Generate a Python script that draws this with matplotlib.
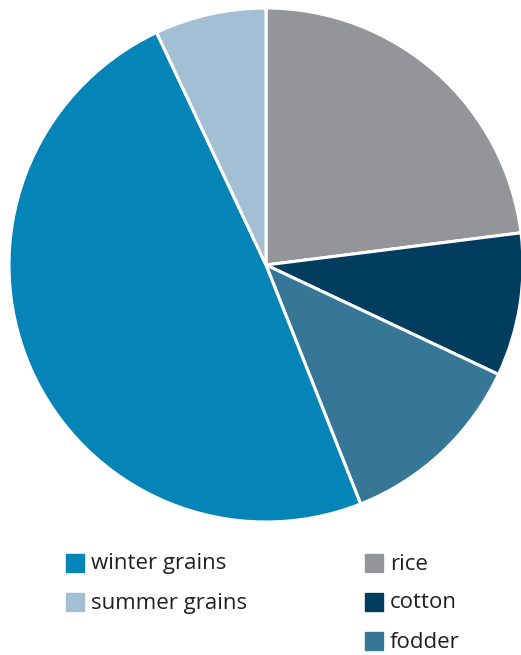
import matplotlib
matplotlib.use('Agg')
import matplotlib.pyplot as plt
from matplotlib.patches import Rectangle

# crop shares, clockwise from 12 o'clock
labels = ['rice', 'cotton', 'fodder', 'winter grains', 'summer grains']
shares = [23, 9, 12, 49, 7]
colors = ['#939598', '#003d5e', '#367798', '#0584b7', '#a3bfd3']

# legend layout: two columns
legend_left = ['winter grains', 'summer grains']
legend_right = ['rice', 'cotton', 'fodder']

W, H = 521, 655
fig = plt.figure(figsize=(W / 100, H / 100), dpi=100)

cx, cy, r = 266, 265, 257
ax = fig.add_axes([(cx - r) / W, 1 - (cy + r) / H, 2 * r / W, 2 * r / H])
ax.pie(shares, colors=colors, startangle=90, counterclock=False, radius=1,
       wedgeprops=dict(edgecolor='white', linewidth=2.2))
ax.set_xlim(-1, 1)
ax.set_ylim(-1, 1)
ax.set_aspect('equal')
ax.axis('off')

color_of = dict(zip(labels, colors))


def legend_column(names, x_px, y0_px, dy_px=39):
    for i, name in enumerate(names):
        y = y0_px + i * dy_px
        fig.patches.append(Rectangle((x_px / W, 1 - (y + 9) / H), 18 / W, 18 / H,
                                     transform=fig.transFigure, color=color_of[name]))
        fig.text((x_px + 25) / W, 1 - (y + 1) / H, name, fontsize=16,
                 family='Open Sans', color='#231f20', va='center', ha='left')


legend_column(legend_left, 66, 563)
legend_column(legend_right, 365, 563)

fig.savefig('out.png', dpi=100)
